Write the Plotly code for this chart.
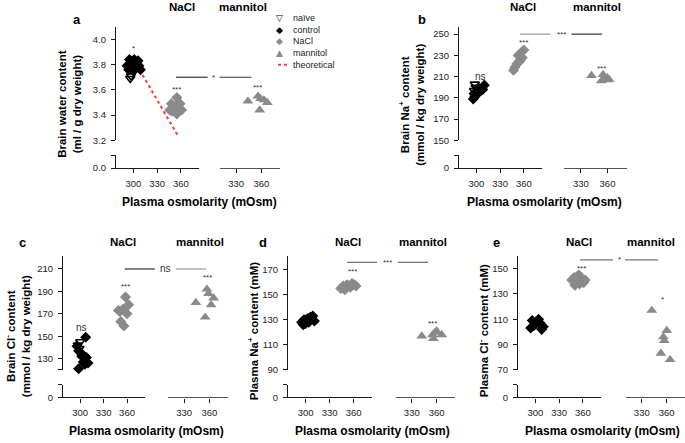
import plotly.graph_objects as go

# ---------------- data ----------------
# Panel a: brain water content (ml / g dry weight)
a_control_x = [295, 301, 306, 298, 292, 307, 300, 294, 303, 309]
a_control_y = [3.84, 3.84, 3.83, 3.81, 3.79, 3.79, 3.75, 3.76, 3.78, 3.76]
a_naive_x = [296, 297, 300]
a_naive_y = [3.69, 3.71, 3.76]
a_nacl_x = [355, 348, 359, 353, 346, 361, 355, 349]
a_nacl_y = [3.54, 3.49, 3.49, 3.47, 3.44, 3.44, 3.41, 3.43]
a_mann_x = [344, 356, 359, 363, 367, 358]
a_mann_y = [3.51, 3.55, 3.53, 3.52, 3.50, 3.44]
a_theo_x = [304, 356]
a_theo_y = [3.80, 3.24]

# Panel b: brain Na+ content (mmol / kg dry weight)
b_control_x = [296, 298, 300, 302, 304, 306, 308, 310, 297, 303]
b_control_y = [189, 191, 193, 195, 196, 197, 198, 202, 194, 199]
b_naive_x = [298, 299, 297]
b_naive_y = [203, 200, 197]
b_nacl_x = [347, 349, 351, 354, 356, 358, 360, 357, 353]
b_nacl_y = [216, 219, 222, 224, 226, 228, 235, 233, 230]
b_mann_x = [342, 355, 357, 362, 353, 360]
b_mann_y = [211, 212, 208, 207, 206, 209]

# Panel c: brain Cl- content (mmol / kg dry weight)
c_control_x = [307, 296, 298, 302, 308, 304, 310, 306, 298, 301]
c_control_y = [149, 141, 137, 132, 131, 127, 126, 125, 121, 135]
c_naive_x = [297, 300, 299]
c_naive_y = [142, 145, 139]
c_nacl_x = [358, 362, 349, 355, 360, 351, 352, 356]
c_nacl_y = [185, 178, 173, 174, 170, 172, 163, 159]
c_mann_x = [357, 359, 365, 344, 362, 355]
c_mann_y = [192, 188, 184, 180, 178, 167]

# Panel d: plasma Na+ content (mM)
d_control_x = [295, 298, 300, 303, 306, 309, 311, 297, 304, 301]
d_control_y = [128, 130, 127, 131, 132, 133, 129, 126, 128, 130]
d_nacl_x = [344, 347, 350, 352, 355, 358, 361, 363, 349, 356]
d_nacl_y = [155, 157, 156, 158, 157, 159, 158, 157, 154, 156]
d_mann_x = [342, 355, 360, 366, 356, 358]
d_mann_y = [117, 118, 121, 118, 115, 120]

# Panel e: plasma Cl- content (mM)
e_control_x = [294, 298, 302, 306, 310, 296, 304, 300, 308]
e_control_y = [103, 105, 108, 107, 104, 109, 110, 106, 102]
e_nacl_x = [346, 349, 352, 355, 358, 361, 350, 356, 353, 363]
e_nacl_y = [141, 143, 140, 145, 142, 139, 137, 138, 144, 141]
e_mann_x = [342, 360, 356, 357, 353, 364]
e_mann_y = [117, 101, 96, 93, 83, 78]

# tick labels
x_left_ticks = [300, 330, 360]
x_right_ticks = [330, 360]
a_yticks = [3.2, 3.4, 3.6, 3.8, 4.0]
a_ytext = ["3.2", "3.4", "3.6", "3.8", "4.0"]
b_yticks = [150, 170, 190, 210, 230, 250]
b_ytext = ["150", "170", "190", "210", "230", "250"]
c_yticks = [130, 150, 170, 190, 210]
c_ytext = ["130", "150", "170", "190", "210"]
d_yticks = [90, 110, 130, 150, 170]
d_ytext = ["90", "110", "130", "150", "170"]
e_yticks = [70, 90, 110, 130, 150]
e_ytext = ["70", "90", "110", "130", "150"]

# significance annotations: (panel, group, x, y, text)
group_marks = [
    ("a", "L", 299.5, 3.93, "*"), ("a", "L", 355, 3.60, "***"), ("a", "R", 355.6, 3.62, "***"),
    ("b", "L", 305.8, 210, "ns"), ("b", "L", 360, 242, "***"), ("b", "R", 353.5, 218, "***"),
    ("c", "L", 302, 158, "ns"), ("c", "L", 357.4, 194.6, "***"), ("c", "R", 357.5, 202, "***"),
    ("d", "L", 358.9, 168.7, "***"), ("d", "R", 355.2, 127.3, "***"),
    ("e", "L", 358.6, 150, "***"), ("e", "R", 354.7, 125.6, "*"),
]
# comparison bars: panel, x start (left axis), x end (right axis), y, label
bar_panels = ["a", "b", "c", "d", "e"]
bar_x_start = [354, 355, 357, 352, 356.5]
bar_x_end = [348, 354, 356, 349.5, 349.5]
bar_y = [3.70, 250, 210, 176, 157]
bar_labels = ["*", "***", "ns", "***", "*"]

# legend entries (panel a)
legend_labels = ["naïve", "control", "NaCl", "mannitol", "theoretical"]
legend_glyphs = ["▽", "◆", "◆", "▲", ""]

# ---------------- layout geometry ----------------
W, H = 685, 443
FONT = "Liberation Sans, Arial, sans-serif"
BLACK = "#000000"
GRAY = "#8a8a8a"
AXC = "#1a1a1a"
RED = "#ff3c3c"
legend_colors = [BLACK, BLACK, GRAY, GRAY, RED]


def fx(px):
    return px / W


def fy(py):
    return 1 - py / H


ROWS = {"top": dict(u0=27, u1=142, l0=157, l1=170, head=7, lab=20, xt=204),
        "bot": dict(u0=259, u1=374, l0=389, l1=402, head=245, lab=245, xt=436)}
GEOM = {
    "a": dict(row="top", x0=116, x1=199, r0=220, r1=280),
    "b": dict(row="top", x0=459, x1=542, r0=564, r1=627),
    "c": dict(row="bot", x0=63, x1=145, r0=168, r1=228),
    "d": dict(row="bot", x0=288, x1=372, r0=396, r1=455),
    "e": dict(row="bot", x0=518, x1=601, r0=626, r1=685),
}
XL_RANGE = [278, 383]
XR_RANGE = [311, 382]

YCFG = {
    "a": dict(range=[3.2, 4.1], tv=a_yticks, tt=a_ytext, zero="0.0",
              title="Brain water content<br>(ml / g dry weight)", tx=70, ty=105),
    "b": dict(range=[150, 257], tv=b_yticks, tt=b_ytext, zero="0",
              title="Brain Na<sup>+</sup> content<br>(mmol / kg dry weight)", tx=412, ty=106),
    "c": dict(range=[120, 221.5], tv=c_yticks, tt=c_ytext, zero="0",
              title="Brain Cl<sup>-</sup> content<br>(mmol / kg dry weight)", tx=17, ty=340),
    "d": dict(range=[90, 181], tv=d_yticks, tt=d_ytext, zero="0",
              title="Plasma Na<sup>+</sup> content (mM)", tx=253, ty=335),
    "e": dict(range=[70, 160], tv=e_yticks, tt=e_ytext, zero="0",
              title="Plasma Cl<sup>-</sup> content (mM)", tx=483, ty=335),
}
HEADERS = {"a": (182, 243), "b": (523, 597), "c": (123, 200), "d": (348, 423), "e": (579, 651)}
LABEL_X = {"a": 77, "b": 422, "c": 22, "d": 263, "e": 496}

SERIES = {
    "a": dict(control=(a_control_x, a_control_y), naive=(a_naive_x, a_naive_y),
              nacl=(a_nacl_x, a_nacl_y), mann=(a_mann_x, a_mann_y)),
    "b": dict(control=(b_control_x, b_control_y), naive=(b_naive_x, b_naive_y),
              nacl=(b_nacl_x, b_nacl_y), mann=(b_mann_x, b_mann_y)),
    "c": dict(control=(c_control_x, c_control_y), naive=(c_naive_x, c_naive_y),
              nacl=(c_nacl_x, c_nacl_y), mann=(c_mann_x, c_mann_y)),
    "d": dict(control=(d_control_x, d_control_y),
              nacl=(d_nacl_x, d_nacl_y), mann=(d_mann_x, d_mann_y)),
    "e": dict(control=(e_control_x, e_control_y),
              nacl=(e_nacl_x, e_nacl_y), mann=(e_mann_x, e_mann_y)),
}


def ax_ids(i):
    n = [2 * i + 1, 2 * i + 2]
    return ["" if k == 1 else str(k) for k in n]


def px_left(p, v):
    g = GEOM[p]
    return g["x0"] + (v - XL_RANGE[0]) / (XL_RANGE[1] - XL_RANGE[0]) * (g["x1"] - g["x0"])


def px_right(p, v):
    g = GEOM[p]
    return g["r0"] + (v - XR_RANGE[0]) / (XR_RANGE[1] - XR_RANGE[0]) * (g["r1"] - g["r0"])


def py_upper(p, v):
    r = ROWS[GEOM[p]["row"]]
    lo, hi = YCFG[p]["range"]
    return r["u1"] - (v - lo) / (hi - lo) * (r["u1"] - r["u0"])


fig = go.Figure()
layout = dict(width=W, height=H, margin=dict(l=0, r=0, t=0, b=0, pad=0),
              paper_bgcolor="white", plot_bgcolor="rgba(0,0,0,0)",
              showlegend=False, font=dict(family=FONT, size=9, color=AXC))
annotations = []
shapes = []

tick_common = dict(showline=True, linecolor=AXC, linewidth=1.2, ticks="outside",
                   ticklen=4, tickwidth=1.1, tickcolor=AXC, showgrid=False,
                   zeroline=False, tickfont=dict(family=FONT, size=9.5, color="#222"))

for i, p in enumerate(["a", "b", "c", "d", "e"]):
    g = GEOM[p]
    r = ROWS[g["row"]]
    yc = YCFG[p]
    (xl, xr) = ax_ids(i)
    (yu, yl) = ax_ids(i)
    layout["xaxis" + xl] = dict(domain=[fx(g["x0"]), fx(g["x1"])], range=XL_RANGE,
                                anchor="y" + yl, tickvals=x_left_ticks, ticklabelstandoff=2,
                                **tick_common)
    layout["xaxis" + xr] = dict(domain=[fx(g["r0"]), min(1, fx(g["r1"]))], range=XR_RANGE,
                                anchor="y" + yl, tickvals=x_right_ticks, ticklabelstandoff=2,
                                **{**tick_common, "linecolor": "#555"})
    upper = dict(domain=[fy(r["u1"]), fy(r["u0"])], range=yc["range"],
                 anchor="x" + xl, tickvals=yc["tv"], ticktext=yc["tt"],
                 ticklabelstandoff=3, **tick_common)
    if yc["range"][0] not in yc["tv"]:
        upper["minor"] = dict(tickvals=[yc["range"][0]], ticks="outside", ticklen=4,
                              tickwidth=1.1, tickcolor=AXC, showgrid=False)
    layout["yaxis" + yu] = upper
    layout["yaxis" + yl] = dict(domain=[fy(r["l1"]), fy(r["l0"])], range=[0, 1],
                                anchor="x" + xl, tickvals=[0], ticktext=[yc["zero"]],
                                ticklabelstandoff=3,
                                minor=dict(tickvals=[1], ticks="outside", ticklen=4,
                                           tickwidth=1.1, tickcolor=AXC, showgrid=False),
                                **tick_common)
    for xa in (xl, xr):
        fig.add_trace(go.Scatter(x=[], y=[], xaxis="x" + xa, yaxis="y" + yl,
                                 hoverinfo="skip"))
    s = SERIES[p]
    if p == "a":
        fig.add_trace(go.Scatter(x=a_theo_x, y=a_theo_y, mode="lines", name="theoretical",
                                 line=dict(color=RED, width=2, dash="dot"),
                                 xaxis="x" + xl, yaxis="y" + yu))
    fig.add_trace(go.Scatter(x=s["control"][0], y=s["control"][1], mode="markers",
                             name="control", cliponaxis=False,
                             marker=dict(symbol="diamond", size=8.5, color=BLACK, line=dict(width=0)),
                             xaxis="x" + xl, yaxis="y" + yu))
    if "naive" in s:
        fig.add_trace(go.Scatter(x=s["naive"][0], y=s["naive"][1], mode="markers",
                                 name="naïve", cliponaxis=False,
                                 marker=dict(symbol="triangle-down-open", size=8, color=BLACK,
                                             line=dict(width=1.6, color=BLACK)),
                                 xaxis="x" + xl, yaxis="y" + yu))
    fig.add_trace(go.Scatter(x=s["nacl"][0], y=s["nacl"][1], mode="markers", name="NaCl",
                             cliponaxis=False,
                             marker=dict(symbol="diamond", size=8.5, color=GRAY, line=dict(width=0)),
                             xaxis="x" + xl, yaxis="y" + yu))
    fig.add_trace(go.Scatter(x=s["mann"][0], y=s["mann"][1], mode="markers", name="mannitol",
                             cliponaxis=False,
                             marker=dict(symbol="triangle-up", size=9.5, color=GRAY, line=dict(width=0)),
                             xaxis="x" + xr, yaxis="y" + yu))

    annotations.append(dict(text="<b>" + yc["title"] + "</b>", xref="paper", yref="paper",
                            x=fx(yc["tx"]), y=fy(yc["ty"]), textangle=-90, showarrow=False,
                            xanchor="center", yanchor="middle",
                            font=dict(family=FONT, size=11.5, color=BLACK)))
    annotations.append(dict(text="<b>Plasma osmolarity (mOsm)</b>", xref="paper", yref="paper",
                            x=fx((g["x0"] + g["r1"]) / 2 + 1), y=fy(r["xt"]), showarrow=False,
                            xanchor="center", yanchor="middle",
                            font=dict(family=FONT, size=12, color=BLACK)))
    for hx, ht in zip(HEADERS[p], ["NaCl", "mannitol"]):
        annotations.append(dict(text="<b>" + ht + "</b>", xref="paper", yref="paper",
                                x=fx(hx), y=fy(r["head"]), showarrow=False,
                                xanchor="center", yanchor="middle",
                                font=dict(family=FONT, size=11.5, color=BLACK)))
    annotations.append(dict(text="<b>" + p + "</b>", xref="paper", yref="paper",
                            x=fx(LABEL_X[p]), y=fy(r["lab"]), showarrow=False,
                            xanchor="center", yanchor="middle",
                            font=dict(family=FONT, size=13, color=BLACK)))

idx = {p: i for i, p in enumerate(["a", "b", "c", "d", "e"])}
for p, side, x, y, t in group_marks:
    xl, xr = ax_ids(idx[p])
    yu, _ = ax_ids(idx[p])
    annotations.append(dict(text=t, xref="x" + (xl if side == "L" else xr), yref="y" + yu,
                            x=x, y=y, showarrow=False, xanchor="center", yanchor="middle",
                            font=dict(family=FONT, size=8 if "*" in t else 10, color="#333")))

bar_colors = {"a": ("#333", "#333"), "b": ("#999", "#333"), "c": ("#333", "#999"),
              "d": ("#666", "#666"), "e": ("#777", "#777")}
for p, xs, xe, yv, t in zip(bar_panels, bar_x_start, bar_x_end, bar_y, bar_labels):
    a_px = px_left(p, xs)
    b_px = px_right(p, xe)
    ypx = py_upper(p, yv)
    mid = (a_px + b_px) / 2
    gap = 6 if t == "*" else 10.5
    cl, cr = bar_colors[p]
    shapes.append(dict(type="line", xref="paper", yref="paper", x0=fx(a_px), x1=fx(mid - gap),
                       y0=fy(ypx), y1=fy(ypx), line=dict(color=cl, width=1.2)))
    shapes.append(dict(type="line", xref="paper", yref="paper", x0=fx(mid + gap), x1=fx(b_px),
                       y0=fy(ypx), y1=fy(ypx), line=dict(color=cr, width=1.2)))
    annotations.append(dict(text=t, xref="paper", yref="paper", x=fx(mid), y=fy(ypx),
                            showarrow=False, xanchor="center", yanchor="middle",
                            font=dict(family=FONT, size=8 if "*" in t else 10, color="#333")))

# legend drawn as one multi-line text block plus a glyph column
LEG_FS = 9
leg_mid = 42
annotations.append(dict(text="<br>".join(legend_labels), xref="paper", yref="paper",
                        x=fx(292), y=fy(leg_mid), showarrow=False, xanchor="left",
                        yanchor="middle", align="left", borderpad=0,
                        font=dict(family=FONT, size=LEG_FS, color="#222")))
glyph_lines = ["<span style='color:%s'>%s</span>" % (c, g_) if g_ else "&nbsp;"
               for g_, c in zip(legend_glyphs, legend_colors)]
annotations.append(dict(text="<br>".join(glyph_lines), xref="paper", yref="paper",
                        x=fx(279), y=fy(leg_mid), showarrow=False, xanchor="center",
                        yanchor="middle", align="center", borderpad=0,
                        font=dict(family="DejaVu Sans", size=LEG_FS, color=BLACK)))
line_gap = 1.3 * LEG_FS
theo_y = leg_mid + 2 * line_gap
shapes.append(dict(type="line", xref="paper", yref="paper", x0=fx(278), x1=fx(290),
                   y0=fy(theo_y), y1=fy(theo_y), line=dict(color=RED, width=2, dash="dot")))

layout["annotations"] = annotations
layout["shapes"] = shapes
fig.update_layout(**layout)
fig.write_html("out.html", config={"displayModeBar": False},
               post_script="document.body.style.margin='0';document.body.style.overflow='hidden';")
